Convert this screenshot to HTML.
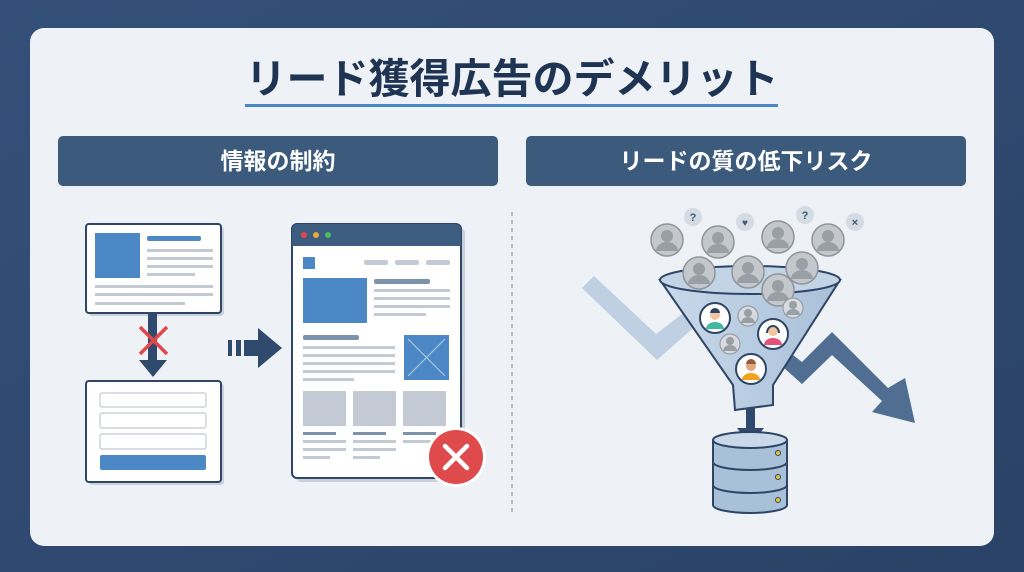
<!DOCTYPE html>
<html><head><meta charset="utf-8"><style>
html,body{margin:0;padding:0;width:1024px;height:572px;overflow:hidden;background:#2e4a6e;}
svg{display:block;font-family:"Liberation Sans","Noto Sans CJK JP",sans-serif;}
</style></head><body>
<svg width="1024" height="572" viewBox="0 0 1024 572" xmlns="http://www.w3.org/2000/svg">
<defs>
<linearGradient id="bg" x1="0" y1="0" x2="1" y2="1"><stop offset="0" stop-color="#34507a"/><stop offset="1" stop-color="#2a4266"/></linearGradient>
<linearGradient id="fun" x1="0" y1="0" x2="1" y2="0"><stop offset="0" stop-color="#c9d9ea"/><stop offset="1" stop-color="#a9c0d9"/></linearGradient>
<g id="gav"><circle r="16" fill="#c4c7cc" stroke="#8f949b" stroke-width="1.5"/><circle cy="-4" r="6" fill="#9a9ea5"/><path d="M-11,11 a11,9 0 0 1 22,0 z" fill="#9a9ea5"/></g>
<g id="sav"><circle r="10" fill="#d7dadf" stroke="#999ea5" stroke-width="1.2"/><circle cy="-3" r="4" fill="#9a9ea5"/><path d="M-7,7 a7,6 0 0 1 14,0 z" fill="#9a9ea5"/></g>
</defs>
<rect width="1024" height="572" fill="url(#bg)"/>
<rect x="30" y="28" width="964" height="518" rx="14" fill="#eef2f6"/>
<text x="512" y="93" text-anchor="middle" font-size="41" font-weight="bold" fill="#1e3452">リード獲得広告のデメリット</text>
<rect x="245" y="104" width="533" height="3" fill="#4a86c5"/>
<rect x="58" y="136" width="440" height="50" rx="5" fill="#3b5a7c"/>
<rect x="526" y="136" width="440" height="50" rx="5" fill="#3b5a7c"/>
<text x="278" y="169" text-anchor="middle" font-size="23" font-weight="bold" fill="#fff">情報の制約</text>
<text x="746" y="169" text-anchor="middle" font-size="23" font-weight="bold" fill="#fff">リードの質の低下リスク</text>
<line x1="512" y1="212" x2="512" y2="512" stroke="#a7b0bb" stroke-width="1.5" stroke-dasharray="4,4"/>

<rect x="89" y="227" width="135" height="89" rx="3" fill="#c9d2dc"/>
<rect x="86" y="224" width="135" height="89" rx="3" fill="#fff" stroke="#2e4566" stroke-width="2"/>
<rect x="95" y="233" width="45" height="45" fill="#4d88c6"/>
<rect x="147" y="236" width="54" height="5" rx="2" fill="#4d88c6"/>
<g fill="#c3cad3"><rect x="147" y="249" width="66" height="3"/><rect x="147" y="257" width="66" height="3"/><rect x="147" y="265" width="66" height="3"/><rect x="147" y="273" width="48" height="3"/><rect x="95" y="285" width="118" height="3"/><rect x="95" y="293" width="118" height="3"/><rect x="95" y="302" width="90" height="3"/></g>
<rect x="148" y="313" width="9" height="50" fill="#2f4a6c"/>
<path d="M139,360 L167,360 L153,377 Z" fill="#2f4a6c"/>
<path d="M140,327 L167,354 M167,327 L140,354" stroke="#e0474a" stroke-width="3.5"/>
<rect x="89" y="384" width="135" height="101" rx="3" fill="#c9d2dc"/>
<rect x="86" y="381" width="135" height="101" rx="3" fill="#fff" stroke="#2e4566" stroke-width="2"/>
<g fill="#fff" stroke="#c3cad3" stroke-width="1.2"><rect x="100" y="393" width="106" height="14" rx="2"/><rect x="100" y="413" width="106" height="15" rx="2"/><rect x="100" y="434" width="106" height="15" rx="2"/></g>
<rect x="100" y="455" width="106" height="15" rx="2" fill="#4d88c6"/>
<g fill="#2f4a6c"><rect x="228" y="340" width="4" height="16"/><rect x="236" y="340" width="5" height="16"/><rect x="244" y="340" width="15" height="16"/><path d="M258,328 L282,348 L258,368 Z"/></g>
<rect x="296" y="228" width="169" height="254" rx="5" fill="#c9d2dc"/>
<rect x="292" y="224" width="169" height="254" rx="5" fill="#fff" stroke="#2e4566" stroke-width="2"/>
<path d="M292,246 V229 a5,5 0 0 1 5,-5 H456 a5,5 0 0 1 5,5 V246 Z" fill="#3d5d80"/>
<circle cx="304" cy="235" r="3" fill="#e0474a"/><circle cx="316" cy="235" r="3" fill="#e9a93a"/><circle cx="328" cy="235" r="3" fill="#4ac05a"/>
<rect x="303" y="257" width="12" height="12" fill="#4d88c6"/>
<g fill="#c3cad3"><rect x="364" y="260" width="24" height="5" rx="2"/><rect x="395" y="260" width="24" height="5" rx="2"/><rect x="426" y="260" width="24" height="5" rx="2"/></g>
<rect x="303" y="278" width="64" height="45" fill="#4d88c6"/>
<rect x="374" y="279" width="56" height="5" rx="2" fill="#7d93ac"/>
<g fill="#c3cad3"><rect x="374" y="289" width="76" height="3"/><rect x="374" y="297" width="76" height="3"/><rect x="374" y="305" width="76" height="3"/><rect x="374" y="313" width="52" height="3"/>
<rect x="303" y="335" width="56" height="5" rx="2" fill="#7d93ac"/>
<rect x="303" y="346" width="92" height="3"/><rect x="303" y="354" width="92" height="3"/><rect x="303" y="362" width="92" height="3"/><rect x="303" y="370" width="92" height="3"/><rect x="303" y="378" width="51" height="3"/>
<rect x="303" y="391" width="43" height="35"/><rect x="353" y="391" width="43" height="35"/><rect x="403" y="391" width="43" height="35"/>
<rect x="303" y="432" width="33" height="3" fill="#7d93ac"/><rect x="353" y="432" width="33" height="3" fill="#7d93ac"/><rect x="403" y="432" width="33" height="3" fill="#7d93ac"/>
<rect x="303" y="440" width="43" height="3"/><rect x="353" y="440" width="43" height="3"/><rect x="403" y="440" width="30" height="3"/>
<rect x="303" y="448" width="43" height="3"/><rect x="353" y="448" width="43" height="3"/>
<rect x="303" y="456" width="27" height="3"/><rect x="353" y="456" width="27" height="3"/></g>
<rect x="404" y="335" width="45" height="45" fill="#4d88c6"/>
<path d="M408,339 L445,376 M445,339 L408,376" stroke="#a9c8e6" stroke-width="1.2"/>
<circle cx="456" cy="457" r="30" fill="#fff"/>
<circle cx="456" cy="457" r="27" fill="#df4a4c"/>
<path d="M445,446 L467,468 M467,446 L445,468" stroke="#fff" stroke-width="4.5" stroke-linecap="round"/>

<path d="M582,288 L594,276 L656,334 L690,308 L700,322 L657,360 Z" fill="#b8cce0" opacity="0.9"/>
<path d="M780,345 L802,362 L832,332 L888,388 L905,378 L915,423 L872,412 L882,401 L832,355 L802,384 L775,360 Z" fill="#4f6e92"/>
<use href="#gav" x="667" y="240"/><use href="#gav" x="718" y="242"/><use href="#gav" x="778" y="237"/><use href="#gav" x="828" y="240"/>
<g font-size="11" font-weight="bold" fill="#3b5a7c" text-anchor="middle">
<circle cx="693" cy="217" r="9" fill="#d5dbe2"/><text x="693" y="221">?</text>
<circle cx="745" cy="222" r="9" fill="#d5dbe2"/><text x="745" y="226" font-size="10">♥</text>
<circle cx="805" cy="215" r="9" fill="#d5dbe2"/><text x="805" y="219">?</text>
<circle cx="855" cy="222" r="9" fill="#d5dbe2"/><text x="855" y="226">×</text></g>
<path d="M660,280 L840,280 L773,385 L773,405 L735,410 L733,385 Z" fill="url(#fun)" stroke="#2e4566" stroke-width="2"/>
<ellipse cx="750" cy="280" rx="90" ry="14" fill="#c2d4e6" stroke="#2e4566" stroke-width="2"/>
<use href="#gav" x="699" y="273"/><use href="#gav" x="748" y="272"/><use href="#gav" x="802" y="268"/><use href="#gav" x="778" y="290"/>
<use href="#sav" x="748" y="316"/><use href="#sav" x="793" y="308"/><use href="#sav" x="730" y="344"/>
<g stroke="#2e4566" stroke-width="2">
<circle cx="715" cy="318" r="15" fill="#fff"/><circle cx="773" cy="334" r="15" fill="#fff"/><circle cx="751" cy="369" r="15" fill="#fff"/></g>
<circle cx="715" cy="315" r="5" fill="#f2c4a0"/><path d="M706,329 a9,7 0 0 1 18,0 z" fill="#3fb9a0"/><path d="M710,313 a5,5 0 0 1 10,0 z" fill="#2e4566"/>
<circle cx="773" cy="331" r="5" fill="#f2c4a0"/><path d="M764,345 a9,7 0 0 1 18,0 z" fill="#e5507a"/><path d="M767,333 a6,7 0 0 1 12,0" fill="none" stroke="#2e4566" stroke-width="2"/>
<circle cx="751" cy="366" r="5" fill="#e2a782"/><path d="M742,380 a9,7 0 0 1 18,0 z" fill="#f2a020"/><path d="M746,364 a5,5 0 0 1 10,0 z" fill="#9a5a3a"/>
<rect x="746" y="408" width="9" height="22" fill="#2f4a6c"/><path d="M737,428 L764,428 L750,445 Z" fill="#2f4a6c"/>
<g stroke="#2e4566" stroke-width="2" fill="#a9c0d9">
<path d="M713,485 v20 a37,8 0 0 0 74,0 v-20"/>
<path d="M713,462 v23 a37,8 0 0 0 74,0 v-23"/>
<path d="M713,440 v22 a37,8 0 0 0 74,0 v-22"/>
<ellipse cx="750" cy="440" rx="37" ry="8" fill="#c9d9ea"/></g>
<g fill="#e9c23a" stroke="#2e4566" stroke-width="1"><circle cx="778" cy="453" r="2.5"/><circle cx="778" cy="477" r="2.5"/><circle cx="778" cy="500" r="2.5"/></g>
</svg>
</body></html>
